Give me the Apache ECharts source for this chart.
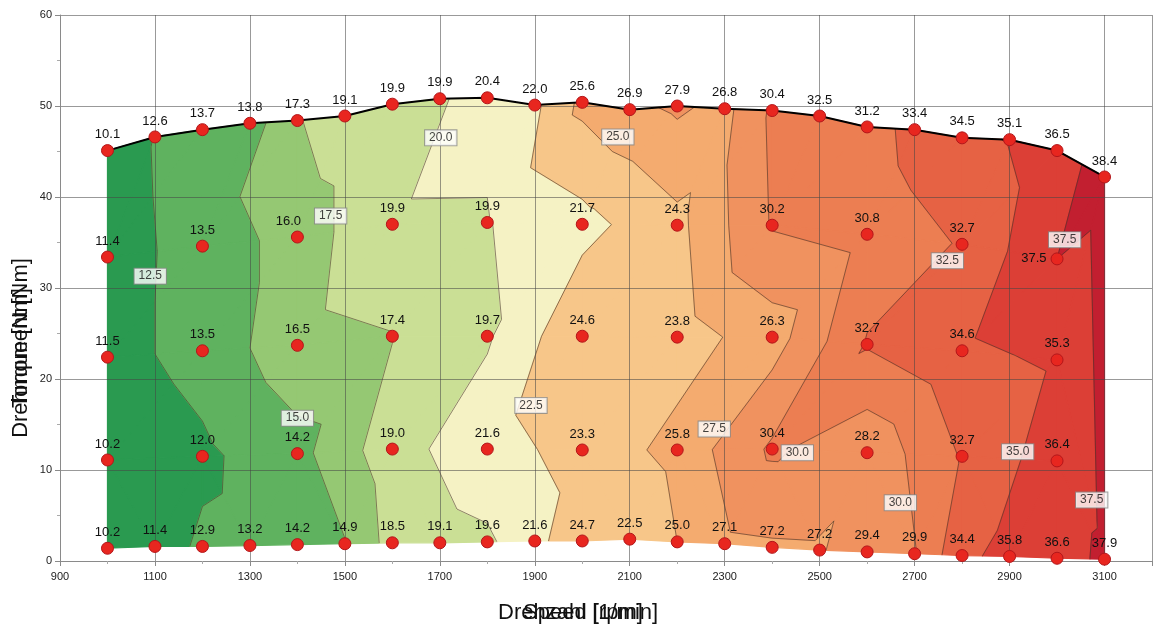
<!DOCTYPE html>
<html>
<head>
<meta charset="utf-8">
<script src="https://cdn.jsdelivr.net/npm/echarts@6/dist/echarts.min.js"></script>
<style>
html,body{margin:0;padding:0;background:#fff;}
#chart{width:1165px;height:632px;}
</style>
</head>
<body>
<div id="chart"></div>
<script>
// ---------- DATA ----------
// Full-load row and bottom row: every 100 rpm
const speedsFull = [1000,1100,1200,1300,1400,1500,1600,1700,1800,1900,2000,2100,2200,2300,2400,2500,2600,2700,2800,2900,3000,3100];
const torqueTop  = [45.1,46.6,47.4,48.1,48.4,48.9,50.2,50.8,50.9,50.1,50.4,49.6,50.0,49.7,49.5,48.9,47.7,47.4,46.5,46.3,45.1,42.2];
const valueTop   = [10.1,12.6,13.7,13.8,17.3,19.1,19.9,19.9,20.4,22.0,25.6,26.9,27.9,26.8,30.4,32.5,31.2,33.4,34.5,35.1,36.5,38.4];
const torqueBottom = [1.4,1.6,1.6,1.7,1.8,1.9,2.0,2.0,2.1,2.2,2.2,2.4,2.1,1.9,1.5,1.2,1.0,0.8,0.6,0.5,0.3,0.2];
const valueBottom  = [10.2,11.4,12.9,13.2,14.2,14.9,18.5,19.1,19.6,21.6,24.7,22.5,25.0,27.1,27.2,27.2,29.4,29.9,34.4,35.8,36.6,37.9];

// Part-load rows: every 200 rpm
const speedsPart = [1000,1200,1400,1600,1800,2000,2200,2400,2600,2800,3000];
const torqueRow2 = [33.4,34.6,35.6,37.0,37.2,37.0,36.9,36.9,35.9,34.8,33.2];
const valueRow2  = [11.4,13.5,16.0,19.9,19.9,21.7,24.3,30.2,30.8,32.7,37.5];
const torqueRow3 = [22.4,23.1,23.7,24.7,24.7,24.7,24.6,24.6,23.8,23.1,22.1];
const valueRow3  = [11.5,13.5,16.5,17.4,19.7,24.6,23.8,26.3,32.7,34.6,35.3];
const torqueRow4 = [11.1,11.5,11.8,12.3,12.3,12.2,12.2,12.3,11.9,11.5,11.0];
const valueRow4  = [10.2,12.0,14.2,19.0,21.6,23.3,25.8,30.4,28.2,32.7,36.4];

// Contour levels and band colours
const contourLevels = [12.5,15.0,17.5,20.0,22.5,25.0,27.5,30.0,32.5,35.0,37.5];
const bandColors = ['#2a9a50','#5fb25f','#95c873','#cadf95','#f5f2c4','#f7c689','#f4ab6f','#f0925f','#ec7e52','#e66244','#dc3f36','#c21f30'];

// Contour label annotations
const contourLabelSpeed  = [1702,2075,1470,1090,1400,1892,2278,2453,2670,2769,3016,2917,3073];
const contourLabelTorque = [46.5,46.6,37.9,31.3,15.7,17.1,14.5,11.9,6.4,33.0,35.3,12.0,6.7];
const contourLabelText   = ['20.0','25.0','17.5','12.5','15.0','22.5','27.5','30.0','30.0','32.5','37.5','35.0','37.5'];

// ---------- BUILD POINTS / TRIANGLES ----------
const pts = [];
function addRow(sp, tq, val) {
  const idx = [];
  for (let i = 0; i < sp.length; i++) { idx.push(pts.length); pts.push({x: sp[i], y: tq[i], v: val[i]}); }
  return idx;
}
const r1 = addRow(speedsFull, torqueTop, valueTop);
const r2 = addRow(speedsPart, torqueRow2, valueRow2);
const r3 = addRow(speedsPart, torqueRow3, valueRow3);
const r4 = addRow(speedsPart, torqueRow4, valueRow4);
const r5 = addRow(speedsFull, torqueBottom, valueBottom);

const triangles = [];
function zipper(A, B) {
  let i = 0, j = 0;
  while (i < A.length - 1 || j < B.length - 1) {
    if (i === A.length - 1) { triangles.push([A[i], B[j], B[j+1]]); j++; }
    else if (j === B.length - 1) { triangles.push([A[i], A[i+1], B[j]]); i++; }
    else if (pts[A[i+1]].x <= pts[B[j+1]].x) { triangles.push([A[i], A[i+1], B[j]]); i++; }
    else { triangles.push([A[i], B[j], B[j+1]]); j++; }
  }
}
zipper(r1, r2); zipper(r2, r3); zipper(r3, r4); zipper(r4, r5);
// right strip between 3000 (part rows) and 3100 (outer rows)
const e1 = r1[r1.length-1], e2 = r2[r2.length-1], e3 = r3[r3.length-1], e4 = r4[r4.length-1], e5 = r5[r5.length-1];
triangles.push([e1, e2, e3], [e1, e3, e5], [e3, e4, e5]);

function clip(poly, f) {
  const out = [];
  const n = poly.length;
  for (let i = 0; i < n; i++) {
    const a = poly[i], b = poly[(i+1) % n];
    const fa = f(a), fb = f(b);
    if (fa >= 0) out.push(a);
    if ((fa >= 0) !== (fb >= 0)) {
      const t = fa / (fa - fb);
      out.push({x: a.x + (b.x - a.x) * t, y: a.y + (b.y - a.y) * t, v: a.v + (b.v - a.v) * t});
    }
  }
  return out;
}

function renderContours(params, api) {
  const fills = [], lines = [];
  triangles.forEach(tri => {
    const P = tri.map(k => { const c = api.coord([pts[k].x, pts[k].y]); return {x: c[0], y: c[1], v: pts[k].v}; });
    for (let b = 0; b <= contourLevels.length; b++) {
      let poly = P;
      if (b > 0) { const lo = contourLevels[b-1]; poly = clip(poly, p => p.v - lo); }
      if (poly.length >= 3 && b < contourLevels.length) { const hi = contourLevels[b]; poly = clip(poly, p => hi - p.v - 1e-9); }
      if (poly.length >= 3) {
        fills.push({type: 'polygon', shape: {points: poly.map(p => [p.x, p.y])},
          style: {fill: bandColors[b], stroke: bandColors[b], lineWidth: 1.2, lineJoin: 'round'}});
      }
    }
    contourLevels.forEach(L => {
      const seg = [];
      for (let i = 0; i < 3; i++) {
        const a = P[i], c = P[(i+1)%3];
        const fa = a.v - L - 1e-9, fc = c.v - L - 1e-9;
        if ((fa >= 0) !== (fc >= 0)) {
          const t = fa / (fa - fc);
          seg.push([a.x + (c.x - a.x) * t, a.y + (c.y - a.y) * t]);
        }
      }
      if (seg.length === 2) {
        lines.push({type: 'line', shape: {x1: seg[0][0], y1: seg[0][1], x2: seg[1][0], y2: seg[1][1]},
          style: {stroke: 'rgba(70,55,40,0.75)', lineWidth: 0.8}});
      }
    });
  });
  return {type: 'group', children: fills.concat(lines)};
}

// Scatter data
const pointData = pts.map(p => {
  const item = {value: [p.x, p.y, p.v]};
  if (p.x === 3000 && p.v === 37.5) item.label = {position: 'left', distance: 4};
  if (p.x === 1400 && p.v === 16.0) item.label = {offset: [-9, 0]};
  return item;
});
const contourLabelData = contourLabelSpeed.map((s, i) => [s, contourLabelTorque[i], contourLabelText[i]]);

const FONT = 'Liberation Sans, Arial, Helvetica, sans-serif';
const chart = echarts.init(document.getElementById('chart'), null, {renderer: 'canvas'});
chart.setOption({
  animation: false,
  backgroundColor: '#ffffff',
  grid: {left: 60, right: 13, top: 15, bottom: 71, containLabel: false},
  xAxis: {
    type: 'value', min: 900, max: 3200, interval: 200, z: 3,
    axisLine: {show: true, lineStyle: {color: '#8a8a8a', width: 1}},
    axisTick: {show: true, length: 5, lineStyle: {color: '#8a8a8a'}},
    minorTick: {show: true, splitNumber: 2, length: 3, lineStyle: {color: '#aaa'}},
    splitLine: {show: true, lineStyle: {color: 'rgba(70,70,70,0.55)', width: 1}},
    axisLabel: {color: '#222', fontSize: 11, fontFamily: FONT, margin: 10,
      formatter: v => (v === 3200 ? '' : String(v))}
  },
  yAxis: {
    type: 'value', min: 0, max: 60, interval: 10, z: 3,
    axisLine: {show: true, lineStyle: {color: '#8a8a8a', width: 1}},
    axisTick: {show: true, length: 5, lineStyle: {color: '#8a8a8a'}},
    minorTick: {show: true, splitNumber: 2, length: 3, lineStyle: {color: '#aaa'}},
    splitLine: {show: true, lineStyle: {color: 'rgba(70,70,70,0.55)', width: 1}},
    axisLabel: {color: '#222', fontSize: 11, fontFamily: FONT, margin: 8}
  },
  graphic: [
    {type: 'text', left: 498, top: 602, z: 10,
      style: {text: 'Drehzahl [1/min]', fontSize: 22, fontFamily: FONT, fill: '#111'}},
    {type: 'text', left: 523, top: 602, z: 10,
      style: {text: 'Speed [rpm]', fontSize: 22, fontFamily: FONT, fill: '#111'}},
    {type: 'text', x: 21, y: 348, rotation: Math.PI / 2, z: 10,
      style: {text: 'Drehmoment [Nm]', fontSize: 22, fontFamily: FONT, fill: '#111', align: 'center', verticalAlign: 'middle'}},
    {type: 'text', x: 21, y: 348, rotation: Math.PI / 2, z: 10,
      style: {text: 'Torque [Nm]', fontSize: 22, fontFamily: FONT, fill: '#111', align: 'center', verticalAlign: 'middle'}}
  ],
  series: [
    {
      type: 'custom', z: 1, silent: true,
      data: [[1000, 0]],
      renderItem: renderContours
    },
    {
      type: 'line', z: 4, silent: true, symbol: 'none',
      data: speedsFull.map((s, i) => [s, torqueTop[i]]),
      lineStyle: {color: '#000', width: 2}
    },
    {
      type: 'scatter', z: 5, symbolSize: 12,
      data: pointData,
      itemStyle: {color: '#e8261f', borderColor: '#b3161a', borderWidth: 1, opacity: 1},
      label: {show: true, position: 'top', distance: 3, color: '#111', fontSize: 13, fontFamily: FONT,
        formatter: p => p.value[2].toFixed(1)}
    },
    {
      type: 'scatter', z: 6, symbolSize: 1, silent: true,
      data: contourLabelData,
      itemStyle: {color: 'rgba(0,0,0,0)'},
      label: {show: true, position: 'inside', color: '#111', fontSize: 12, fontFamily: FONT,
        backgroundColor: '#fff', borderColor: '#888', borderWidth: 1, padding: [2, 4, 1, 4],
        formatter: p => p.value[2]}
    }
  ]
});
</script>
</body>
</html>
